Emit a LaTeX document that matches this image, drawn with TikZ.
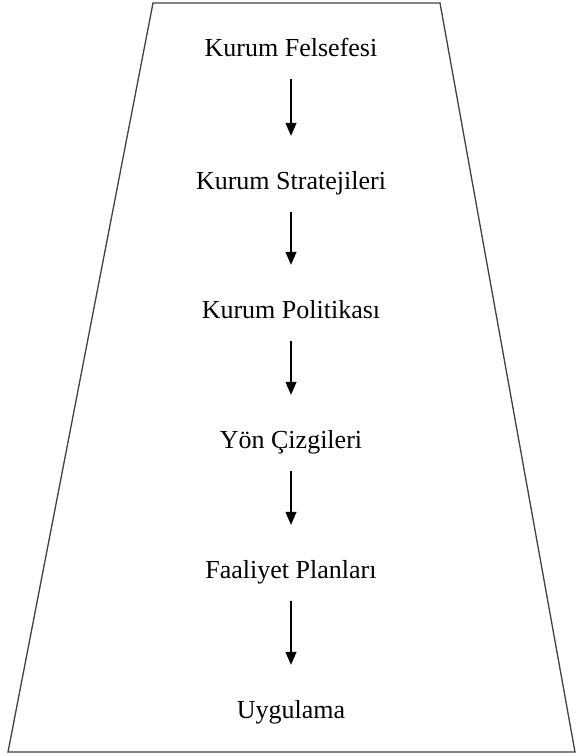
\documentclass[tikz,border=0pt]{standalone}
\usepackage{fontspec}
\setmainfont{Liberation Serif}
\usetikzlibrary{arrows.meta}

\begin{document}
\begin{tikzpicture}[
    x=1pt, y=-1pt,
    level/.style={anchor=base, inner sep=0pt, text height=17pt, text depth=6pt, font=\fontsize{26}{31}\selectfont},
    arrow/.style={-{Triangle[length=13pt, width=11pt]}, line width=1.2pt, shorten <=17pt, shorten >=36pt},
    frame/.style={draw=black!75, line width=1.3pt, line join=miter},
]
\useasboundingbox (0,0) rectangle (576,756);

% ====== Trapezoid ======
\draw[frame] (153,3) -- (440,3) -- (575,752) -- (8,752) -- cycle;

% ====== Levels ======
\node[level] (felsefe)  at (291, 56)  {Kurum Felsefesi};
\node[level] (strateji) at (291, 189) {Kurum Stratejileri};
\node[level] (politika) at (291, 318) {Kurum Politikası};
\node[level] (cizgi)    at (291, 448) {Yön Çizgileri};
\node[level] (plan)     at (291, 578) {Faaliyet Planları};
\node[level] (uygulama) at (291, 718) {Uygulama};

% ====== Arrows ======
\draw[arrow] (felsefe)  -- (strateji);
\draw[arrow] (strateji) -- (politika);
\draw[arrow] (politika) -- (cizgi);
\draw[arrow] (cizgi)    -- (plan);
\draw[arrow] (plan)     -- (uygulama);

\end{tikzpicture}
\end{document}
